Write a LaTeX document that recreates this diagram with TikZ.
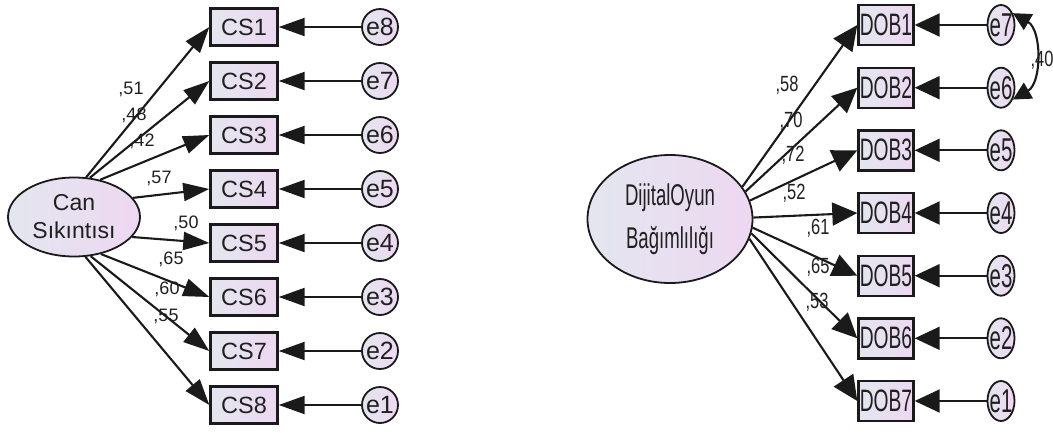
\documentclass[tikz,border=0pt]{standalone}
\usepackage{fontspec}
\setmainfont{Liberation Sans}
\newfontfamily\narrowfont[FakeStretch=0.62]{Liberation Sans}
\newfontfamily\narrowcoef[FakeStretch=0.75]{Liberation Sans}
\usetikzlibrary{arrows.meta, positioning, shapes.geometric}
\definecolor{SemLeft}{HTML}{E3E6EF}
\definecolor{SemRight}{HTML}{EDD8F1}
\definecolor{SemLine}{HTML}{1A1A1A}
\definecolor{SemText}{HTML}{202020}

\begin{document}
\begin{tikzpicture}[x=1pt, y=-1pt,
    latent/.style={
      ellipse, draw=SemLine, line width=1.8pt, left color=SemLeft, right color=SemRight,
      inner sep=0pt, align=center, text=SemText
    },
    indicator/.style={
      rectangle, draw=SemLine, line width=2.4pt, left color=SemLeft, right color=SemRight,
      inner sep=0pt, text=SemText
    },
    errvar/.style={
      ellipse, draw=SemLine, line width=1.8pt, left color=SemLeft, right color=SemRight,
      inner sep=-3pt, text=SemText
    },
    arr/.style={-{Triangle[length=26pt, width=18pt]}, line width=2.1pt, draw=SemLine},
    arrwide/.style={-{Triangle[length=25pt, width=23pt]}, line width=2.1pt, draw=SemLine},
    covarr/.style={{Triangle[length=18pt, width=18pt]}-{Triangle[length=18pt, width=18pt]}, line width=2.1pt, draw=SemLine},
    coef/.style={inner sep=0pt, text=SemText, font=\fontsize{18}{20}\selectfont},
    coefn/.style={inner sep=0pt, text=SemText, font=\narrowcoef\fontsize{22}{24}\selectfont}
  ]
    \useasboundingbox (0,0) rectangle (1053,432);

    % Can Sikintisi
    \node[latent, minimum width=132pt, minimum height=79pt, font=\fontsize{23}{28}\selectfont] (can) at (74,217) {Can\\Sıkıntısı};

    \node[indicator, minimum width=67pt, minimum height=37pt, font=\fontsize{23.5}{25}\selectfont] (cs1) at (244,27) {CS1};
    \node[indicator, minimum width=67pt, minimum height=37pt, font=\fontsize{23.5}{25}\selectfont] (cs2) at (244,81) {CS2};
    \node[indicator, minimum width=67pt, minimum height=37pt, font=\fontsize{23.5}{25}\selectfont] (cs3) at (244,135) {CS3};
    \node[indicator, minimum width=67pt, minimum height=37pt, font=\fontsize{23.5}{25}\selectfont] (cs4) at (244,189) {CS4};
    \node[indicator, minimum width=67pt, minimum height=37pt, font=\fontsize{23.5}{25}\selectfont] (cs5) at (244,243) {CS5};
    \node[indicator, minimum width=67pt, minimum height=37pt, font=\fontsize{23.5}{25}\selectfont] (cs6) at (244,297) {CS6};
    \node[indicator, minimum width=67pt, minimum height=37pt, font=\fontsize{23.5}{25}\selectfont] (cs7) at (244,351) {CS7};
    \node[indicator, minimum width=67pt, minimum height=37pt, font=\fontsize{23.5}{25}\selectfont] (cs8) at (244,405) {CS8};

    \node[errvar, minimum size=36pt, font=\fontsize{25}{27}\selectfont] (ea8) at (380,27) {e8};
    \node[errvar, minimum size=36pt, font=\fontsize{25}{27}\selectfont] (ea7) at (380,81) {e7};
    \node[errvar, minimum size=36pt, font=\fontsize{25}{27}\selectfont] (ea6) at (380,135) {e6};
    \node[errvar, minimum size=36pt, font=\fontsize{25}{27}\selectfont] (ea5) at (380,189) {e5};
    \node[errvar, minimum size=36pt, font=\fontsize{25}{27}\selectfont] (ea4) at (380,243) {e4};
    \node[errvar, minimum size=36pt, font=\fontsize{25}{27}\selectfont] (ea3) at (380,297) {e3};
    \node[errvar, minimum size=36pt, font=\fontsize{25}{27}\selectfont] (ea2) at (380,351) {e2};
    \node[errvar, minimum size=36pt, font=\fontsize{25}{27}\selectfont] (ea1) at (380,405) {e1};

    \draw[arr] (can.73) -- (cs1.west);
    \draw[arr] (can.68) -- (cs2.west);
    \draw[arr] (can.55) -- (cs3.west);
    \draw[arr] (can.18) -- (cs4.west);
    \draw[arr] (can.-19) -- (cs5.west);
    \draw[arr] (can.-54) -- (cs6.west);
    \draw[arr] (can.-67) -- (cs7.west);
    \draw[arr] (can.-74) -- (cs8.west);

    \draw[arr] (ea8) -- (cs1);
    \draw[arr] (ea7) -- (cs2);
    \draw[arr] (ea6) -- (cs3);
    \draw[arr] (ea5) -- (cs4);
    \draw[arr] (ea4) -- (cs5);
    \draw[arr] (ea3) -- (cs6);
    \draw[arr] (ea2) -- (cs7);
    \draw[arr] (ea1) -- (cs8);

    \node[coef] (l1) at (131,89) {,51};
    \node[coef] (l2) at (134,115) {,48};
    \node[coef] (l3) at (142,141) {,42};
    \node[coef] (l4) at (159,178) {,57};
    \node[coef] (l5) at (186,223) {,50};
    \node[coef] (l6) at (171,259) {,65};
    \node[coef] (l7) at (167,289) {,60};
    \node[coef] (l8) at (166,316) {,55};

    % Dijital Oyun Bagimliligi
    \node[latent, minimum width=165pt, minimum height=128pt, font=\narrowfont\fontsize{30}{43}\selectfont] (dob) at (670,219) {DijitalOyun\\Bağımlılığı};

    \node[indicator, minimum width=55pt, minimum height=40pt, font=\narrowfont\fontsize{31}{33}\selectfont] (dob1) at (886,25) {DOB1};
    \node[indicator, minimum width=55pt, minimum height=40pt, font=\narrowfont\fontsize{31}{33}\selectfont] (dob2) at (886,87.7) {DOB2};
    \node[indicator, minimum width=55pt, minimum height=40pt, font=\narrowfont\fontsize{31}{33}\selectfont] (dob3) at (886,150.3) {DOB3};
    \node[indicator, minimum width=55pt, minimum height=40pt, font=\narrowfont\fontsize{31}{33}\selectfont] (dob4) at (886,213) {DOB4};
    \node[indicator, minimum width=55pt, minimum height=40pt, font=\narrowfont\fontsize{31}{33}\selectfont] (dob5) at (886,275.7) {DOB5};
    \node[indicator, minimum width=55pt, minimum height=40pt, font=\narrowfont\fontsize{31}{33}\selectfont] (dob6) at (886,338.3) {DOB6};
    \node[indicator, minimum width=55pt, minimum height=40pt, font=\narrowfont\fontsize{31}{33}\selectfont] (dob7) at (886,401) {DOB7};

    \node[errvar, minimum width=27pt, minimum height=40pt, font=\narrowfont\fontsize{33}{35}\selectfont] (eb7) at (1001,25) {e7};
    \node[errvar, minimum width=27pt, minimum height=40pt, font=\narrowfont\fontsize{33}{35}\selectfont] (eb6) at (1001,87.7) {e6};
    \node[errvar, minimum width=27pt, minimum height=40pt, font=\narrowfont\fontsize{33}{35}\selectfont] (eb5) at (1001,150.3) {e5};
    \node[errvar, minimum width=27pt, minimum height=40pt, font=\narrowfont\fontsize{33}{35}\selectfont] (eb4) at (1001,213) {e4};
    \node[errvar, minimum width=27pt, minimum height=40pt, font=\narrowfont\fontsize{33}{35}\selectfont] (eb3) at (1001,275.7) {e3};
    \node[errvar, minimum width=27pt, minimum height=40pt, font=\narrowfont\fontsize{33}{35}\selectfont] (eb2) at (1001,338.3) {e2};
    \node[errvar, minimum width=27pt, minimum height=40pt, font=\narrowfont\fontsize{33}{35}\selectfont] (eb1) at (1001,401) {e1};

    \draw[arrwide] (dob.24) -- (dob1.west);
    \draw[arrwide] (dob.20) -- (dob2.west);
    \draw[arrwide] (dob.13) -- (dob3.west);
    \draw[arrwide] (dob.1) -- (dob4.west);
    \draw[arrwide] (dob.-6) -- (dob5.west);
    \draw[arrwide] (dob.-10) -- (dob6.west);
    \draw[arrwide] (dob.-14) -- (dob7.west);

    \draw[arrwide] (eb7) -- (dob1);
    \draw[arrwide] (eb6) -- (dob2);
    \draw[arrwide] (eb5) -- (dob3);
    \draw[arrwide] (eb4) -- (dob4);
    \draw[arrwide] (eb3) -- (dob5);
    \draw[arrwide] (eb2) -- (dob6);
    \draw[arrwide] (eb1) -- (dob7);

    \draw[covarr] (eb7.45) to[bend left=60] (eb6.-45);
    \node[coefn] (r0) at (1042,60) {,40};

    \node[coefn] (r1) at (787,85) {,58};
    \node[coefn] (r2) at (791,121) {,70};
    \node[coefn] (r3) at (793,155) {,72};
    \node[coefn] (r4) at (794,193) {,52};
    \node[coefn] (r5) at (818,228) {,61};
    \node[coefn] (r6) at (818,267) {,65};
    \node[coefn] (r7) at (817,302) {,53};
  \end{tikzpicture}
\end{document}
